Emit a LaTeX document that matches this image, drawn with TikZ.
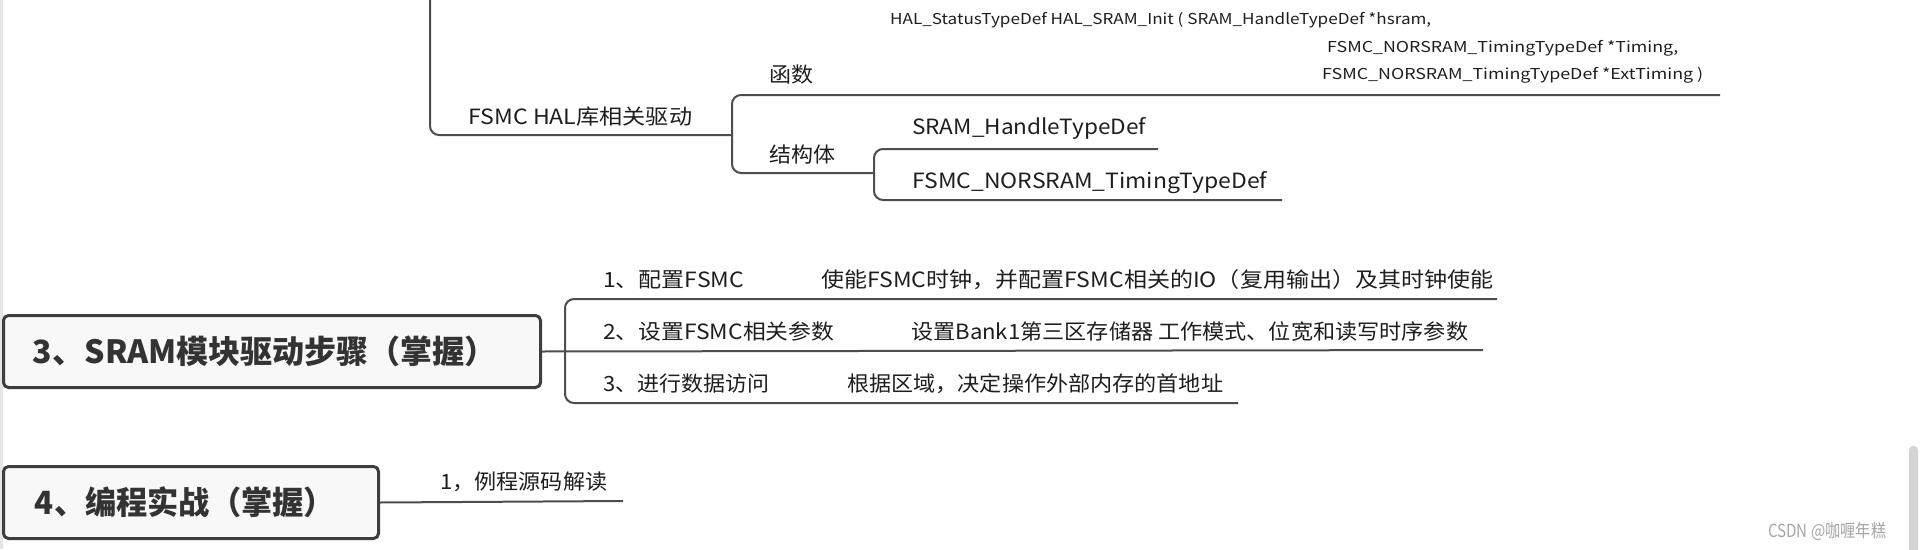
\documentclass[tikz,border=0pt]{standalone}
\usepackage{fontspec}
\usepackage{graphicx}
\setmainfont{Noto Sans CJK SC}
\definecolor{linec}{HTML}{4D4D4D}
\definecolor{boxline}{HTML}{3E3E3E}
\definecolor{boxfill}{HTML}{F8F8F8}
\definecolor{txt}{HTML}{1E1E1E}
\definecolor{boldtxt}{HTML}{333333}
\definecolor{wm}{HTML}{A6A6A6}
\definecolor{scroll}{HTML}{D4D4D4}
\definecolor{edge}{HTML}{E6E6E6}
\newcommand{\fitw}[2]{\resizebox{#1pt}{\height}{#2}}
\begin{document}
\begin{tikzpicture}[x=1pt,y=-1pt,
  conn/.style={draw=linec, line width=2pt, rounded corners=9pt},
  lbl/.style={anchor=base west, inner sep=0pt, text=txt, font=\fontsize{21}{21}\selectfont},
  fnlbl/.style={anchor=base west, inner sep=0pt, text=txt, font=\fontsize{15}{15}\selectfont},
  mainbox/.style={draw=boxline, fill=boxfill, line width=3pt, rounded corners=5pt,
    text=boldtxt, font=\fontsize{32}{32}\selectfont\bfseries, inner sep=0pt, anchor=north west}
]
\useasboundingbox (0,0) rectangle (1920,549);
\fill[white] (0,0) rectangle (1920,549);
\fill[edge] (0,0) rectangle (2.5,549);
\fill[scroll, rounded corners=4pt] (1909,446) rectangle (1918,560);

% ---------- FSMC HAL part ----------
\coordinate (topA) at (430,-3);
\coordinate (hal) at (732,135);
\draw[conn] (topA) |- (hal);
\node[lbl] (halT) at (468,124) {\fitw{224}{FSMC HAL库相关驱动}};

\coordinate (fnR) at (1720,95);
\coordinate (brT) at (732,95);
\coordinate (brB) at (732,173);
\coordinate (stJ) at (874,173);
\draw[conn] (fnR) -- (brT) -- (brB) -- (stJ);
\node[lbl] (fnT) at (769,82) {\fitw{44}{函数}};
\node[lbl] (stT) at (769,162) {\fitw{66}{结构体}};

\node[fnlbl] (f1) at (890,24) {\fitw{541}{HAL\_StatusTypeDef HAL\_SRAM\_Init ( SRAM\_HandleTypeDef *hsram,}};
\node[fnlbl] (f2) at (1327,52) {\fitw{351}{FSMC\_NORSRAM\_TimingTypeDef *Timing,}};
\node[fnlbl] (f3) at (1322,79) {\fitw{381}{FSMC\_NORSRAM\_TimingTypeDef *ExtTiming )}};

\coordinate (s1R) at (1158,149);
\coordinate (s1L) at (874,149);
\coordinate (s2L) at (874,200);
\coordinate (s2R) at (1282,200);
\draw[conn] (s1R) -- (s1L) -- (s2L) -- (s2R);
\node[lbl] (s1T) at (912,134) {\fitw{234}{SRAM\_HandleTypeDef}};
\node[lbl] (s2T) at (912,188) {\fitw{355}{FSMC\_NORSRAM\_TimingTypeDef}};

% ---------- 3 ----------
\node[mainbox, minimum width=537pt, minimum height=72pt] (b3) at (2,314) {\fitw{464}{3、SRAM模块驱动步骤（掌握）}\hspace*{14pt}};
\coordinate (i1R) at (1497,299);
\coordinate (i1L) at (565,299);
\coordinate (i3L) at (565,403);
\coordinate (i3R) at (1238,403);
\coordinate (i2R) at (1483,350);
\draw[conn] (i1R) -- (i1L) -- (i3L) -- (i3R);
\draw[conn] (b3.east) -- (i2R);
\node[lbl] (i1a) at (603,287) {\fitw{141}{1、配置FSMC}};
\node[lbl] (i1b) at (821,287) {\fitw{672}{使能FSMC时钟，并配置FSMC相关的IO（复用输出）及其时钟使能}};
\node[lbl] (i2a) at (603,339) {\fitw{231}{2、设置FSMC相关参数}};
\node[lbl] (i2b) at (911,339) {\fitw{557}{设置Bank1第三区存储器 工作模式、位宽和读写时序参数}};
\node[lbl] (i3a) at (603,391) {\fitw{166}{3、进行数据访问}};
\node[lbl] (i3b) at (847,391) {\fitw{376}{根据区域，决定操作外部内存的首地址}};

% ---------- 4 ----------
\node[mainbox, minimum width=375pt, minimum height=72pt] (b4) at (2,465) {\fitw{300}{4、编程实战（掌握）}\hspace*{12pt}};
\coordinate (i4R) at (623,501);
\draw[conn] (b4.east) -- (i4R);
\node[lbl] (i4) at (440,489) {\fitw{167}{1，例程源码解读}};

% ---------- watermark ----------
\node[anchor=base west, inner sep=0pt, text=wm, font=\fontsize{18}{18}\selectfont] (wmk) at (1768,537) {\fitw{118}{CSDN @咖喱年糕}};
\end{tikzpicture}
\end{document}
